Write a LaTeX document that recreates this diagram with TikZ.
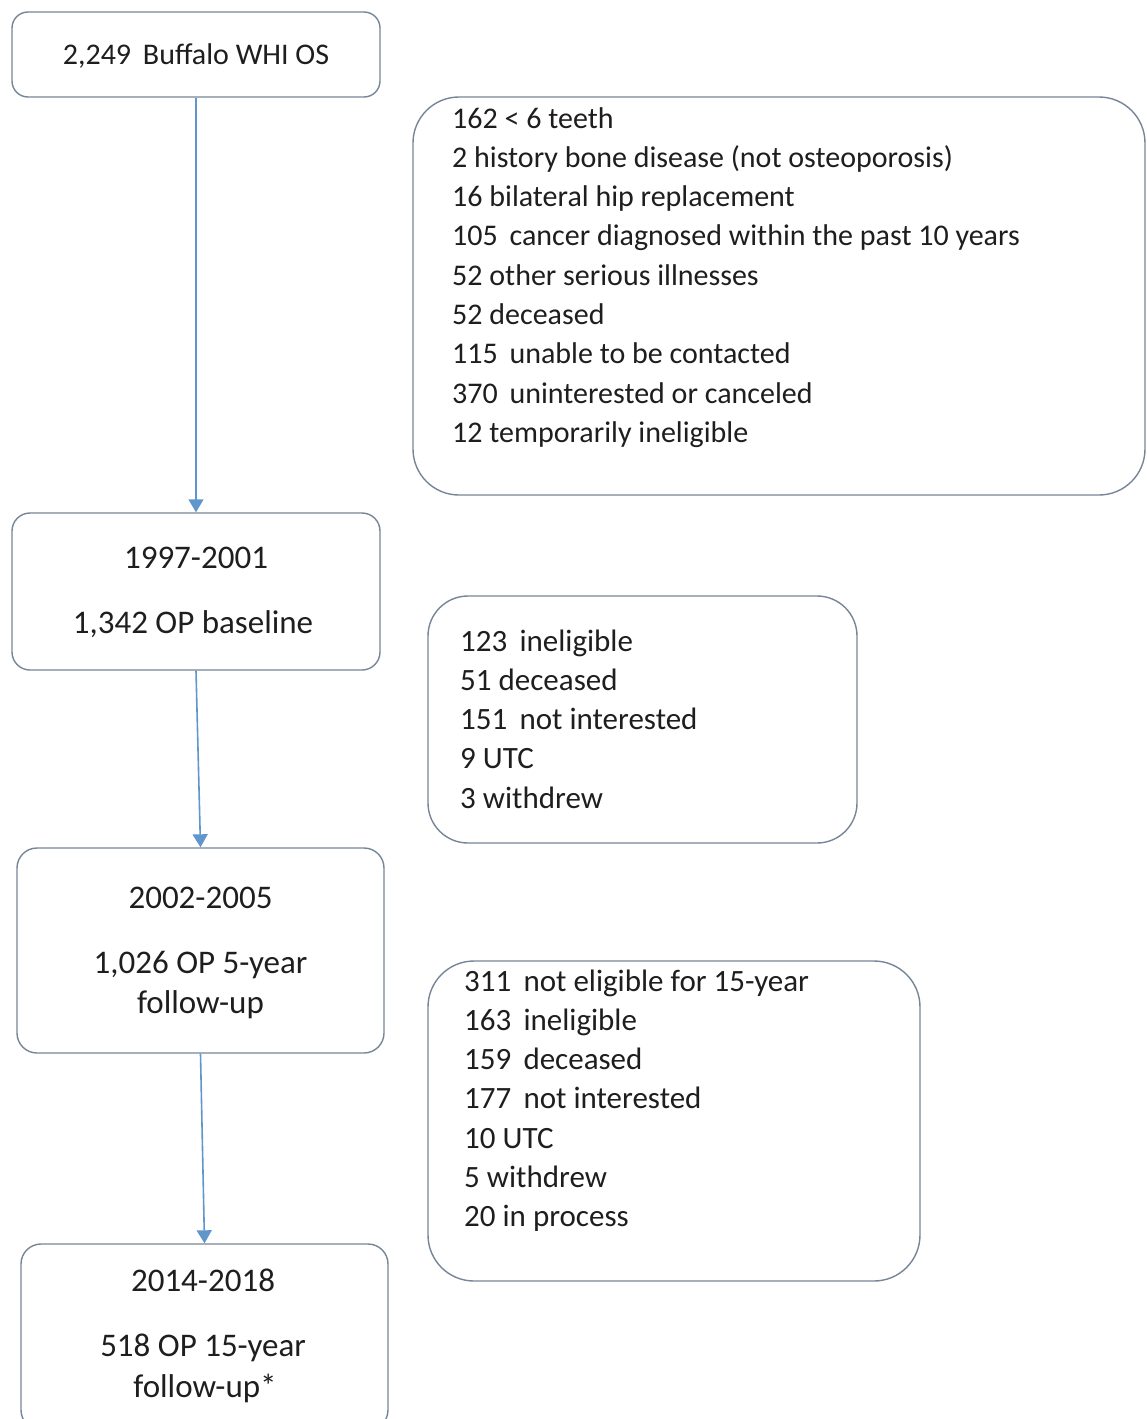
\documentclass[tikz,border=0pt]{standalone}
\usepackage{fontspec}
\setmainfont{Carlito}
\usetikzlibrary{arrows.meta}
\definecolor{boxc}{RGB}{118,134,152}
\definecolor{arrc}{RGB}{96,150,204}
\definecolor{txtc}{RGB}{30,30,30}
\begin{document}
\begin{tikzpicture}[x=1pt,y=-1pt,
  box/.style={draw=boxc, line width=1.4pt, rounded corners=#1, fill=white, inner sep=0pt},
  txt/.style={text=txtc, font=\fontsize{30}{36}\selectfont, inner sep=0pt},
  txtm/.style={text=txtc, font=\fontsize{31}{37}\selectfont, inner sep=0pt},
  txtl/.style={text=txtc, font=\fontsize{33}{39}\selectfont, inner sep=0pt},
  arr/.style={draw=arrc, line width=1.6pt, -{Triangle[width=15pt,length=13pt]}}]
\useasboundingbox (0,0) rectangle (1146,1419);
\clip (0,0) rectangle (1146,1419);
\fill[white] (0,0) rectangle (1146,1419);
% left boxes
\node[box=16pt, minimum width=368pt, minimum height=85pt] (b1) at (196,54.5) {};
\node[box=18pt, minimum width=368pt, minimum height=157pt] (b2) at (196,591.5) {};
\node[box=20pt, minimum width=367pt, minimum height=205pt] (b3) at (200.5,950.5) {};
\node[box=20pt, minimum width=367pt, minimum height=186pt] (b4) at (204.5,1337) {};
% right boxes
\node[box=46pt, minimum width=732pt, minimum height=398pt] (r1) at (779,296) {};
\node[box=40pt, minimum width=429pt, minimum height=247pt] (r2) at (642.5,719.5) {};
\node[box=46pt, minimum width=492pt, minimum height=320pt] (r3) at (674,1121) {};
% arrows
\draw[arr] (b1.south) -- (b2.north);
\draw[arr] (b2.south) -- (b3.north);
\draw[arr] (b3.south) -- (b4.north);
% left texts
\node[txt, anchor=base] (t1) at (196,64) {2,249\, Buffalo WHI OS};
\node[txtl, anchor=base] (t2a) at (196,568) {1997-2001};
\node[txtl, anchor=base] (t2b) at (193,633) {1,342 OP baseline};
\node[txtl, anchor=base] (t3a) at (200.5,908) {2002-2005};
\node[txtl, anchor=base] (t3b) at (200.5,973) {1,026 OP 5-year};
\node[txtl, anchor=base] (t3c) at (200.5,1013) {follow-up};
\node[txtl, anchor=base] (t4a) at (203,1291) {2014-2018};
\node[txtl, anchor=base] (t4b) at (203,1356) {518 OP 15-year};
\node[txtl, anchor=base] (t4c) at (205,1397) {follow-up*};
% right texts
\foreach \t [count=\i] in {{162 < 6 teeth},{2 history bone disease (not osteoporosis)},{16 bilateral hip replacement},{105\, cancer diagnosed within the past 10 years},{52 other serious illnesses},{52 deceased},{115\, unable to be contacted},{370\, uninterested or canceled},{12 temporarily ineligible}}
  \node[txt, anchor=base west] (ra\i) at (452,{128+(\i-1)*39.3}) {\t};
\foreach \t [count=\i] in {{123\, ineligible},{51 deceased},{151\, not interested},{9 UTC},{3 withdrew}}
  \node[txtm, anchor=base west] (rb\i) at (460,{651+(\i-1)*39.3}) {\t};
\foreach \t [count=\i] in {{311\, not eligible for 15-year},{163\, ineligible},{159\, deceased},{177\, not interested},{10 UTC},{5 withdrew},{20 in process}}
  \node[txtm, anchor=base west] (rc\i) at (464,{991+(\i-1)*39.3}) {\t};
\end{tikzpicture}
\end{document}
